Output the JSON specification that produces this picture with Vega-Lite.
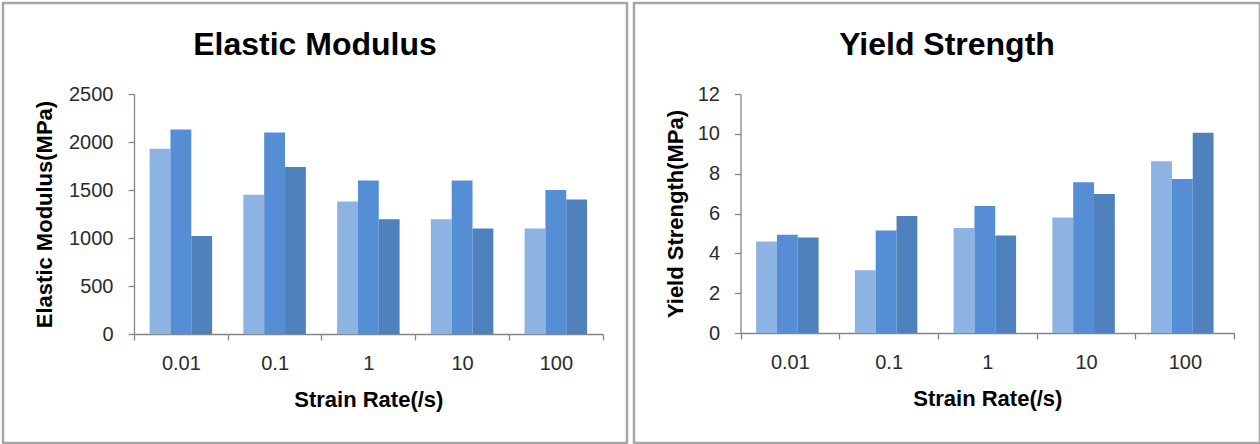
{
  "$schema": "https://vega.github.io/schema/vega-lite/v6.json",
  "padding": {"left": 1, "top": 1, "right": 0, "bottom": 0},
  "spacing": 3,
  "config": {
    "font": "Liberation Sans",
    "view": {"stroke": "#a6a6a6", "strokeWidth": 2.5},
    "axis": {
      "grid": false,
      "domainColor": "#868686",
      "domainWidth": 1.3,
      "tickColor": "#868686",
      "tickWidth": 1.3,
      "tickSize": 6,
      "labelFontSize": 20,
      "labelColor": "#2b2b2b",
      "titleFontSize": 22,
      "titleFontWeight": "bold",
      "titleColor": "#000000"
    },
    "title": {"fontSize": 32, "fontWeight": "bold", "color": "#000000"}
  },
  "datasets": {
    "em": [
      {"rate": "0.01", "series": "S1", "value": 1930},
      {"rate": "0.01", "series": "S2", "value": 2130},
      {"rate": "0.01", "series": "S3", "value": 1020},
      {"rate": "0.1", "series": "S1", "value": 1450},
      {"rate": "0.1", "series": "S2", "value": 2100},
      {"rate": "0.1", "series": "S3", "value": 1740},
      {"rate": "1", "series": "S1", "value": 1380},
      {"rate": "1", "series": "S2", "value": 1600},
      {"rate": "1", "series": "S3", "value": 1195},
      {"rate": "10", "series": "S1", "value": 1195},
      {"rate": "10", "series": "S2", "value": 1600},
      {"rate": "10", "series": "S3", "value": 1100},
      {"rate": "100", "series": "S1", "value": 1100},
      {"rate": "100", "series": "S2", "value": 1500},
      {"rate": "100", "series": "S3", "value": 1400}
    ],
    "ys": [
      {"rate": "0.01", "series": "S1", "value": 4.6},
      {"rate": "0.01", "series": "S2", "value": 4.93},
      {"rate": "0.01", "series": "S3", "value": 4.8},
      {"rate": "0.1", "series": "S1", "value": 3.15},
      {"rate": "0.1", "series": "S2", "value": 5.15},
      {"rate": "0.1", "series": "S3", "value": 5.88},
      {"rate": "1", "series": "S1", "value": 5.27},
      {"rate": "1", "series": "S2", "value": 6.38},
      {"rate": "1", "series": "S3", "value": 4.9},
      {"rate": "10", "series": "S1", "value": 5.8},
      {"rate": "10", "series": "S2", "value": 7.57},
      {"rate": "10", "series": "S3", "value": 6.98},
      {"rate": "100", "series": "S1", "value": 8.62},
      {"rate": "100", "series": "S2", "value": 7.73},
      {"rate": "100", "series": "S3", "value": 10.05}
    ]
  },
  "hconcat": [
    {
      "width": 624,
      "height": 440,
      "title": {"text": "Elastic Modulus", "offset": -84, "baseline": "alphabetic"},
      "data": {"name": "em"},
      "mark": {"type": "bar"},
      "encoding": {
        "x": {
          "field": "rate", "type": "nominal", "sort": null,
          "scale": {"range": [131, 599.7], "paddingInner": 0, "paddingOuter": 0},
          "axis": {"title": "Strain Rate(/s)", "labelAngle": 0, "tickBand": "extent", "offset": -109, "labelPadding": 13, "titlePadding": 16}
        },
        "xOffset": {"field": "series", "type": "nominal", "scale": {"paddingInner": 0, "paddingOuter": 0.75}},
        "y": {
          "field": "value", "type": "quantitative",
          "scale": {"domain": [0, 2500], "range": [331, 91], "nice": false, "zero": true},
          "axis": {"title": "Elastic Modulus(MPa)", "values": [0, 500, 1000, 1500, 2000, 2500], "format": "d", "offset": -131, "labelPadding": 15, "titlePadding": 12}
        },
        "color": {"field": "series", "type": "nominal", "scale": {"range": ["#8db3e2", "#558ed5", "#4f81bd"]}, "legend": null}
      }
    },
    {
      "width": 626,
      "height": 440,
      "title": {"text": "Yield Strength", "offset": -84, "baseline": "alphabetic"},
      "data": {"name": "ys"},
      "mark": {"type": "bar"},
      "encoding": {
        "x": {
          "field": "rate", "type": "nominal", "sort": null,
          "scale": {"range": [106.5, 600.2], "paddingInner": 0, "paddingOuter": 0},
          "axis": {"title": "Strain Rate(/s)", "labelAngle": 0, "tickBand": "extent", "offset": -110, "labelPadding": 13, "titlePadding": 16}
        },
        "xOffset": {"field": "series", "type": "nominal", "scale": {"paddingInner": 0, "paddingOuter": 0.75}},
        "y": {
          "field": "value", "type": "quantitative",
          "scale": {"domain": [0, 12], "range": [330, 91], "nice": false, "zero": true},
          "axis": {"title": "Yield Strength(MPa)", "values": [0, 2, 4, 6, 8, 10, 12], "format": "d", "offset": -106.5, "labelPadding": 15, "titlePadding": 10}
        },
        "color": {"field": "series", "type": "nominal", "scale": {"range": ["#8db3e2", "#558ed5", "#4f81bd"]}, "legend": null}
      }
    }
  ]
}
